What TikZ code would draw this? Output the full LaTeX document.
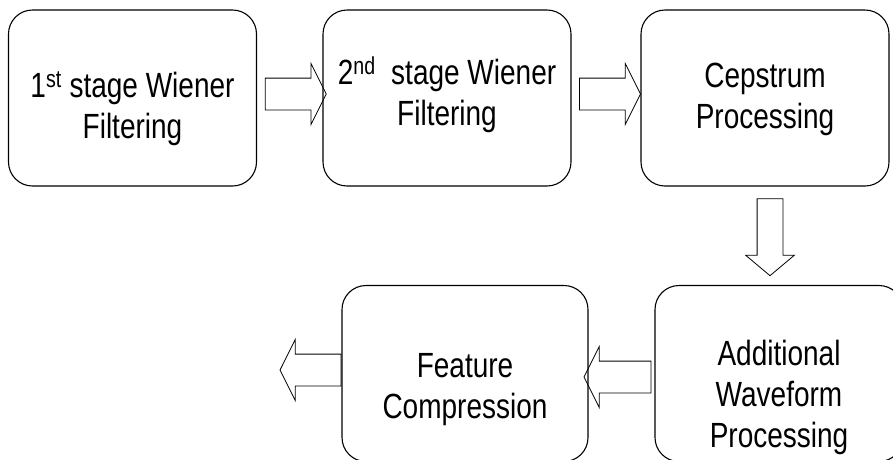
\documentclass[tikz,border=0pt]{standalone}
\usepackage{fontspec}
\setmainfont{Liberation Sans}[FakeStretch=0.8]
\usetikzlibrary{shapes.arrows,calc}

\begin{document}
\begin{tikzpicture}[x=1pt, y=-1pt,
  stagebox/.style={draw, line width=1.1pt, rounded corners=24pt, align=center,
                   minimum width=248pt, minimum height=176pt, inner sep=0pt,
                   text depth=0pt, font=\fontsize{35}{41}\selectfont},
  blockarrow/.style={single arrow, draw, line width=0.8pt, inner xsep=0pt,
                     inner ysep=15.5pt, single arrow head extend=14.5pt,
                     single arrow tip angle=127}
]
  \useasboundingbox (0,0) rectangle (893,459);
  \clip (0,0) rectangle (893,459);

  % top row
  \node[stagebox, text height=80pt] (wiener1) at (132.5,98) {1\textsuperscript{st} stage Wiener\\Filtering};
  \node[stagebox, text height=54pt] (wiener2) at (447,98) {2\textsuperscript{nd}\ \ stage Wiener\\Filtering};
  \node[stagebox, text height=60pt] (cepstrum) at (765,98) {Cepstrum\\Processing};

  % bottom row
  \node[stagebox, text height=147pt] (waveform) at (779,373.5) {Additional\\Waveform\\Processing};
  \node[stagebox, minimum width=246pt, text height=89pt] (compress) at (465,373.5) {Feature\\Compression};

  % block arrows
  \node[blockarrow, minimum height=61pt] (a12) at ($(wiener1.east)!0.5!(wiener2.west)+(2,-4)$) {};
  \node[blockarrow, minimum height=61pt] (a23) at ($(wiener2.east)!0.5!(cepstrum.west)+(0,-4)$) {};
  \node[blockarrow, rotate=-90, minimum height=77pt, inner ysep=12.5pt,
        single arrow head extend=11.5pt, single arrow tip angle=100] (a34)
        at ($(cepstrum.south)!0.5!(waveform.north)+(-2,-4)$) {};
  \node[blockarrow, rotate=180, minimum height=67pt] (a45) at ($(compress.east)!0.5!(waveform.west)+(0,3.5)$) {};
  \node[blockarrow, rotate=180, minimum height=61pt, anchor=tail] (aout) at ($(compress.west)+(0,-3.5)$) {};
\end{tikzpicture}
\end{document}
